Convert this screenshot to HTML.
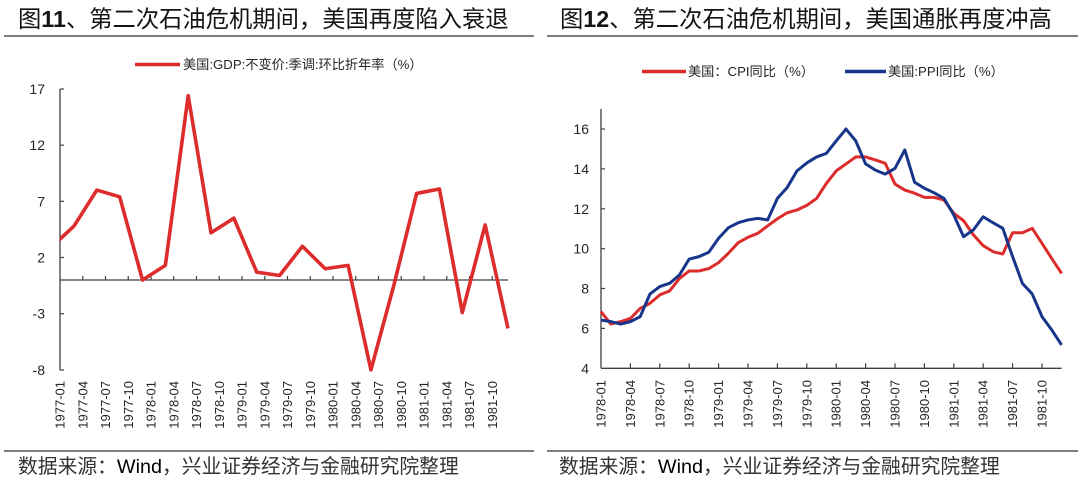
<!DOCTYPE html>
<html>
<head>
<meta charset="utf-8">
<style>
html,body{margin:0;padding:0;background:#fff;}
svg{display:block;}
text{font-family:"Liberation Sans","Noto Sans CJK SC",sans-serif;}
</style>
</head>
<body>
<svg width="1080" height="485" viewBox="0 0 1080 485" xmlns="http://www.w3.org/2000/svg">
<defs>
<clipPath id="c1"><rect x="60" y="40" width="460" height="400"/></clipPath>
</defs>
<rect x="0" y="0" width="1080" height="485" fill="#fff"/>

<!-- Titles -->
<text x="18" y="27" font-size="23.3" fill="#141414">图<tspan font-weight="bold">11</tspan>、第二次石油危机期间，美国再度陷入衰退</text>
<text x="560" y="27" font-size="23.3" fill="#141414">图<tspan font-weight="bold">12</tspan>、第二次石油危机期间，美国通胀再度冲高</text>
<line x1="4" y1="36" x2="534" y2="36" stroke="#7f7f7f" stroke-width="2"/>
<line x1="547" y1="36" x2="1078" y2="36" stroke="#7f7f7f" stroke-width="2"/>

<!-- Footers -->
<line x1="4" y1="451" x2="534" y2="451" stroke="#333" stroke-width="1.3"/>
<line x1="547" y1="451" x2="1078" y2="451" stroke="#333" stroke-width="1.3"/>
<text x="18" y="473" font-size="19.8" fill="#333">数据来源：<tspan fill="#000">Wind</tspan>，兴业证券经济与金融研究院整理</text>
<text x="559" y="473" font-size="19.8" fill="#333">数据来源：<tspan fill="#000">Wind</tspan>，兴业证券经济与金融研究院整理</text>

<!-- ===== LEFT CHART ===== -->
<line x1="135" y1="64.5" x2="180" y2="64.5" stroke="#dd2c2c" stroke-width="3.5"/>
<text x="183" y="69" font-size="13.2" fill="#262626">美国:GDP:不变价:季调:环比折年率（%）</text>

<!-- y axis -->
<line x1="60" y1="89" x2="60" y2="370" stroke="#404040" stroke-width="1.3"/>
<g stroke="#404040" stroke-width="1.2">
<line x1="60" y1="89" x2="64" y2="89"/>
<line x1="60" y1="145.2" x2="64" y2="145.2"/>
<line x1="60" y1="201.3" x2="64" y2="201.3"/>
<line x1="60" y1="257.5" x2="64" y2="257.5"/>
<line x1="60" y1="313.7" x2="64" y2="313.7"/>
<line x1="60" y1="370" x2="64" y2="370"/>
</g>
<g font-size="14" fill="#262626" text-anchor="end">
<text x="45" y="94">17</text>
<text x="45" y="150.2">12</text>
<text x="45" y="206.3">7</text>
<text x="45" y="262.5">2</text>
<text x="45" y="318.7">-3</text>
<text x="45" y="375">-8</text>
</g>
<!-- zero axis -->
<line x1="60" y1="280" x2="508" y2="280" stroke="#404040" stroke-width="1.3"/>
<g stroke="#404040" stroke-width="1.2">
<line x1="82.75" y1="276" x2="82.75" y2="280"/>
<line x1="105.5" y1="276" x2="105.5" y2="280"/>
<line x1="128.25" y1="276" x2="128.25" y2="280"/>
<line x1="151" y1="276" x2="151" y2="280"/>
<line x1="173.75" y1="276" x2="173.75" y2="280"/>
<line x1="196.5" y1="276" x2="196.5" y2="280"/>
<line x1="219.25" y1="276" x2="219.25" y2="280"/>
<line x1="242" y1="276" x2="242" y2="280"/>
<line x1="264.75" y1="276" x2="264.75" y2="280"/>
<line x1="287.5" y1="276" x2="287.5" y2="280"/>
<line x1="310.25" y1="276" x2="310.25" y2="280"/>
<line x1="333" y1="276" x2="333" y2="280"/>
<line x1="355.75" y1="276" x2="355.75" y2="280"/>
<line x1="378.5" y1="276" x2="378.5" y2="280"/>
<line x1="401.25" y1="276" x2="401.25" y2="280"/>
<line x1="424" y1="276" x2="424" y2="280"/>
<line x1="446.75" y1="276" x2="446.75" y2="280"/>
<line x1="469.5" y1="276" x2="469.5" y2="280"/>
<line x1="492.25" y1="276" x2="492.25" y2="280"/>
</g>
<g font-size="13" fill="#262626" text-anchor="end">
<text transform="translate(64.5,381) rotate(-90)">1977-01</text>
<text transform="translate(87.25,381) rotate(-90)">1977-04</text>
<text transform="translate(110,381) rotate(-90)">1977-07</text>
<text transform="translate(132.75,381) rotate(-90)">1977-10</text>
<text transform="translate(155.5,381) rotate(-90)">1978-01</text>
<text transform="translate(178.25,381) rotate(-90)">1978-04</text>
<text transform="translate(201,381) rotate(-90)">1978-07</text>
<text transform="translate(223.75,381) rotate(-90)">1978-10</text>
<text transform="translate(246.5,381) rotate(-90)">1979-01</text>
<text transform="translate(269.25,381) rotate(-90)">1979-04</text>
<text transform="translate(292,381) rotate(-90)">1979-07</text>
<text transform="translate(314.75,381) rotate(-90)">1979-10</text>
<text transform="translate(337.5,381) rotate(-90)">1980-01</text>
<text transform="translate(360.25,381) rotate(-90)">1980-04</text>
<text transform="translate(383,381) rotate(-90)">1980-07</text>
<text transform="translate(405.75,381) rotate(-90)">1980-10</text>
<text transform="translate(428.5,381) rotate(-90)">1981-01</text>
<text transform="translate(451.25,381) rotate(-90)">1981-04</text>
<text transform="translate(474,381) rotate(-90)">1981-07</text>
<text transform="translate(496.75,381) rotate(-90)">1981-10</text>
</g>
<g clip-path="url(#c1)">
<g transform="translate(74,280) scale(22.84,-11.24)">
<polyline fill="none" stroke="#dd2c2c" stroke-width="3.6" stroke-linejoin="round" vector-effect="non-scaling-stroke"
points="-1,2.9 0,4.8 1,8 2,7.4 3,0 4,1.3 5,16.4 6,4.2 7,5.5 8,0.7 9,0.4 10,3 11,1 12,1.3 13,-8 14,-0.5 15,7.7 16,8.1 17,-2.9 18,4.9 19,-4.3"/>
</g>
</g>

<!-- ===== RIGHT CHART ===== -->
<line x1="642" y1="71.5" x2="686" y2="71.5" stroke="#dd2c2c" stroke-width="3.5"/>
<text x="688" y="76" font-size="13.2" fill="#262626">美国：CPI同比（%）</text>
<line x1="845" y1="71.5" x2="886" y2="71.5" stroke="#17358a" stroke-width="3.5"/>
<text x="888" y="76" font-size="13.2" fill="#262626">美国:PPI同比（%）</text>

<line x1="601" y1="109" x2="601" y2="368.3" stroke="#404040" stroke-width="1.3"/>
<line x1="601" y1="368.3" x2="1061.6" y2="368.3" stroke="#404040" stroke-width="1.3"/>
<g stroke="#404040" stroke-width="1.2">
<line x1="601" y1="129" x2="605" y2="129"/>
<line x1="601" y1="168.9" x2="605" y2="168.9"/>
<line x1="601" y1="208.8" x2="605" y2="208.8"/>
<line x1="601" y1="248.7" x2="605" y2="248.7"/>
<line x1="601" y1="288.5" x2="605" y2="288.5"/>
<line x1="601" y1="328.4" x2="605" y2="328.4"/>
<line x1="630.4" y1="363.3" x2="630.4" y2="368.3"/>
<line x1="659.8" y1="363.3" x2="659.8" y2="368.3"/>
<line x1="689.2" y1="363.3" x2="689.2" y2="368.3"/>
<line x1="718.6" y1="363.3" x2="718.6" y2="368.3"/>
<line x1="748" y1="363.3" x2="748" y2="368.3"/>
<line x1="777.4" y1="363.3" x2="777.4" y2="368.3"/>
<line x1="806.8" y1="363.3" x2="806.8" y2="368.3"/>
<line x1="836.2" y1="363.3" x2="836.2" y2="368.3"/>
<line x1="865.6" y1="363.3" x2="865.6" y2="368.3"/>
<line x1="895" y1="363.3" x2="895" y2="368.3"/>
<line x1="924.4" y1="363.3" x2="924.4" y2="368.3"/>
<line x1="953.8" y1="363.3" x2="953.8" y2="368.3"/>
<line x1="983.2" y1="363.3" x2="983.2" y2="368.3"/>
<line x1="1012.6" y1="363.3" x2="1012.6" y2="368.3"/>
<line x1="1042" y1="363.3" x2="1042" y2="368.3"/>
</g>
<g font-size="14" fill="#262626" text-anchor="end">
<text x="589" y="134">16</text>
<text x="589" y="173.9">14</text>
<text x="589" y="213.8">12</text>
<text x="589" y="253.7">10</text>
<text x="589" y="293.5">8</text>
<text x="589" y="333.4">6</text>
<text x="589" y="373.3">4</text>
</g>
<g font-size="13" fill="#262626" text-anchor="end">
<text transform="translate(605.5,380) rotate(-90)">1978-01</text>
<text transform="translate(634.9,380) rotate(-90)">1978-04</text>
<text transform="translate(664.3,380) rotate(-90)">1978-07</text>
<text transform="translate(693.7,380) rotate(-90)">1978-10</text>
<text transform="translate(723.1,380) rotate(-90)">1979-01</text>
<text transform="translate(752.5,380) rotate(-90)">1979-04</text>
<text transform="translate(781.9,380) rotate(-90)">1979-07</text>
<text transform="translate(811.3,380) rotate(-90)">1979-10</text>
<text transform="translate(840.7,380) rotate(-90)">1980-01</text>
<text transform="translate(870.1,380) rotate(-90)">1980-04</text>
<text transform="translate(899.5,380) rotate(-90)">1980-07</text>
<text transform="translate(928.9,380) rotate(-90)">1980-10</text>
<text transform="translate(958.3,380) rotate(-90)">1981-01</text>
<text transform="translate(987.7,380) rotate(-90)">1981-04</text>
<text transform="translate(1017.1,380) rotate(-90)">1981-07</text>
<text transform="translate(1046.5,380) rotate(-90)">1981-10</text>
</g>
<g transform="translate(601,368.3) scale(9.8,-19.94) translate(0,-4)">
<polyline fill="none" stroke="#dd2c2c" stroke-width="3" stroke-linejoin="round" vector-effect="non-scaling-stroke"
points="0,6.84 1,6.22 2,6.34 3,6.5 4,7 5,7.26 6,7.68 7,7.88 8,8.5 9,8.88 10,8.88 11,9 12,9.3 13,9.77 14,10.3 15,10.57 16,10.77 17,11.14 18,11.5 19,11.8 20,11.94 21,12.17 22,12.52 23,13.28 24,13.9 25,14.25 26,14.6 27,14.6 28,14.45 29,14.28 30,13.24 31,12.94 32,12.78 33,12.57 34,12.57 35,12.44 36,11.77 37,11.4 38,10.69 39,10.15 40,9.85 41,9.73 42,10.8 43,10.8 44,11.02 45,10.27 46,9.5 47,8.76"/>
<polyline fill="none" stroke="#17358a" stroke-width="3" stroke-linejoin="round" vector-effect="non-scaling-stroke"
points="0,6.42 1,6.34 2,6.22 3,6.34 4,6.59 5,7.73 6,8.1 7,8.26 8,8.68 9,9.48 10,9.6 11,9.82 12,10.52 13,11.05 14,11.3 15,11.44 16,11.52 17,11.44 18,12.52 19,13.07 20,13.9 21,14.3 22,14.6 23,14.78 24,15.4 25,16 26,15.4 27,14.25 28,13.94 29,13.74 30,14.03 31,14.95 32,13.33 33,13.03 34,12.8 35,12.52 36,11.69 37,10.6 38,10.94 39,11.6 40,11.3 41,11.02 42,9.6 43,8.26 44,7.73 45,6.59 46,5.92 47,5.17"/>
</g>
</svg>
</body>
</html>
